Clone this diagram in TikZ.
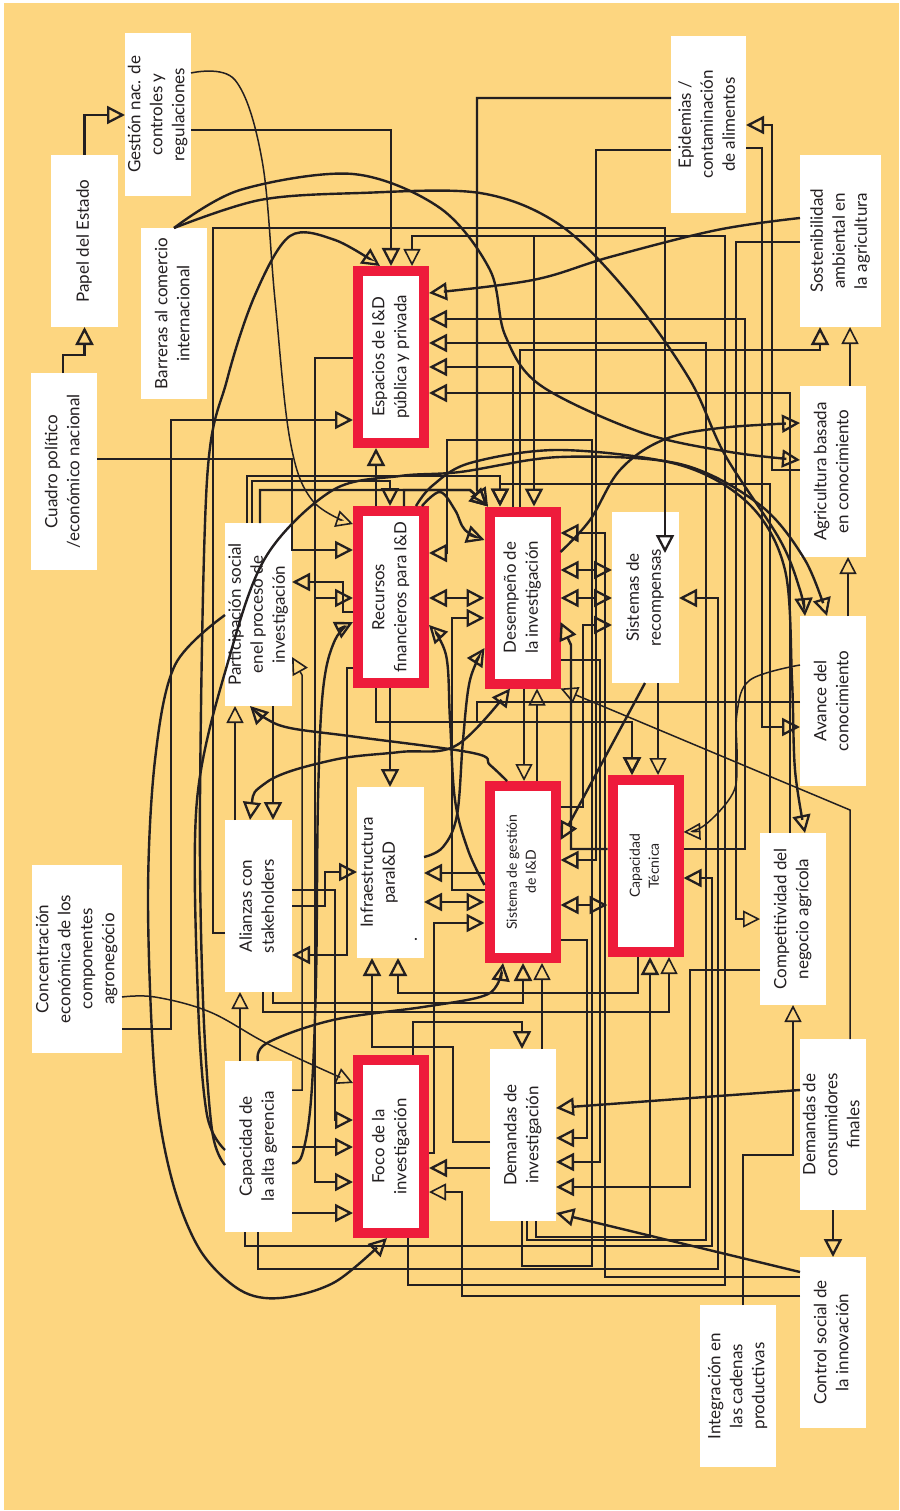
\documentclass[tikz,border=0pt]{standalone}
\usepackage{fontspec}
\setmainfont{Lato}
\usetikzlibrary{arrows.meta}
\definecolor{paper}{HTML}{FDD680}
\definecolor{ink}{HTML}{231F20}
\definecolor{frame}{HTML}{EE1B3B}
\newcommand{\boxfont}{\fontsize{17}{22}\selectfont}
\newcommand{\redfont}{\fontsize{16.8}{22}\selectfont}
\newcommand{\boxsmall}{\fontsize{14}{19}\selectfont}
\newcommand{\vtext}[1]{\rotatebox{90}{\begin{tabular}{@{}c@{}}#1\end{tabular}}}
\tikzset{
  HB/.tip={Triangle[open,length=18pt,width=18pt,line width=2.3pt]},
  HT/.tip={Triangle[open,length=17pt,width=17pt,line width=1.6pt]},
  ln/.style={draw=ink,line width=2.4pt},
  tn/.style={draw=ink,line width=1.5pt},
  wbox/.style={fill=white,inner sep=0pt,outer sep=0pt,font=\boxfont,text=ink},
  rbox/.style={fill=white,draw=frame,line width=10pt,inner sep=0pt,outer sep=5pt,
    minimum width=66pt,minimum height=172pt,font=\redfont,text=ink},
}
\begin{document}
\begin{tikzpicture}[x=1pt,y=-1pt]
\useasboundingbox (0,0) rectangle (899,1511);
\fill[white] (0,0) rectangle (899,1511);
\fill[paper] (4,3) rectangle (899,1510);

% ---------- boxes ----------
\node[wbox,minimum width=67pt,minimum height=172pt] (pe) at (84.5,241) {\vtext{Papel del Estado}};
\node[wbox,minimum width=66pt,minimum height=163pt] (gn) at (158,114.5) {\vtext{Gestión nac. de\\controles y\\regulaciones}};
\node[wbox,minimum width=66pt,minimum height=171pt] (bc) at (174,313.5) {\vtext{Barreras al comercio\\internacional}};
\node[wbox,minimum width=66pt,minimum height=197pt] (cp) at (64,471.5) {\vtext{Cuadro político\\/económico nacional}};
\node[rbox] (esp) at (391,357) {\vtext{Espacios de I\&D\\pública y privada}};
\node[rbox] (rec) at (391,597) {\vtext{Recursos\\financieros para I\&D}};
\node[rbox] (des) at (522.5,597.5) {\vtext{Desempeño de\\la investigación}};
\node[wbox,minimum width=67pt,minimum height=171pt] (sr) at (645.5,597.5) {\vtext{Sistemas de\\recompensas}};
\node[wbox,minimum width=66pt,minimum height=171pt] (abc) at (833,471.5) {\vtext{Agricultura basada\\en conocimiento}};
\node[wbox,minimum width=66pt,minimum height=170pt] (av) at (833,701) {\vtext{Avance del\\conocimiento}};
\node[wbox,minimum width=81pt,minimum height=172pt] (sost) at (840.5,241) {\vtext{Sostenibilidad\\ambiental en\\la agricultura}};
\node[wbox,minimum width=75pt,minimum height=177pt] (epi) at (708.5,124.5) {\vtext{Epidemias /\\contaminación\\de alimentos}};
\node[wbox,minimum width=67pt,minimum height=183pt] (ps) at (258.5,614.5) {\vtext{Participación social\\enel proceso de\\investigación}};
\node[wbox,minimum width=67pt,minimum height=172pt] (al) at (258.5,906) {\vtext{Alianzas con\\stakeholders}};
\node[wbox,minimum width=67pt,minimum height=171pt] (inf) at (390.5,872.5) {\vtext{Infraestructura\\paraI\&D\\\multicolumn{1}{@{}l@{}}{\hspace{-14pt}.}}};
\node[rbox,font=\boxsmall] (sg) at (522.5,872) {\vtext{Sistema de gestión\\de I\&D}};
\node[rbox,font=\boxsmall] (ct) at (645.5,866) {\vtext{Capacidad\\Técnica}};
\node[wbox,minimum width=66pt,minimum height=172pt] (cn) at (793,919) {\vtext{Competitividad del\\negocio agrícola}};
\node[wbox,minimum width=90pt,minimum height=188pt] (ce) at (77,959) {\vtext{Concentración\\económica de los\\componentes\\agronegócio}};
\node[wbox,minimum width=67pt,minimum height=171pt] (ag) at (258.5,1146.5) {\vtext{Capacidad de\\la alta gerencia}};
\node[rbox,minimum height=173pt] (foco) at (391,1146.5) {\vtext{Foco de la\\investigación}};
\node[wbox,minimum width=66pt,minimum height=172pt] (di) at (523,1135) {\vtext{Demandas de\\investigación}};
\node[wbox,minimum width=66pt,minimum height=171pt] (dc) at (833,1124.5) {\vtext{Demandas de\\consumidores\\finales}};
\node[wbox,minimum width=66pt,minimum height=171pt] (cs) at (833,1342.5) {\vtext{Control social de\\la innovación}};
\node[wbox,minimum width=76pt,minimum height=162pt] (ic) at (738,1386) {\vtext{Integración en\\las cadenas\\productivas}};

% ---------- upper left chain ----------
\draw[ln,-HB] (cp.north -| 63,0) |- (84.5,355) -- (pe.south);
\draw[ln,-HB] (pe.north) |- (gn.west |- 0,115);
\draw[ln,-HB] (gn.east |- 0,130) -| (esp.north);
\draw[tn,-HT] plot[smooth,tension=.6] coordinates {(gn.east |- 0,73) (235,80) (262,160) (275,300) (290,440) (312,500) (rec.west |- 0,524)};

% ---------- long curves ----------
\draw[ln,-HB] plot[smooth,tension=.55] coordinates {(bc.north) (240,190) (353,174) (440,208) (490,270) (505,335) (540,385) (640,432) (730,452) (abc.west |- 0,460)};
\draw[ln,-HB] plot[smooth,tension=.55] coordinates {(bc.north) (260,200) (360,193) (480,193) (560,225) (630,295) (690,380) (725,455) (780,540) (800,590) (av.north -| 805,0)};
\draw[ln,-HB] plot[smooth,tension=.55] coordinates {(ag.west |- 0,1150) (207,1115) (198,1000) (197,800) (230,655) (267,555) (333,490) (400,476) (460,472) (560,457) (680,464) (760,505) (805,560) (av.north -| 827,0)};
\draw[ln,-HB] plot[smooth,tension=.55] coordinates {(ag.west |- 0,1165) (212,1130) (203,1000) (200,800) (207,480) (227,380) (255,295) (290,236) (335,240) (esp.north -| 380,0)};
\draw[ln,-HB] plot[smooth,tension=.55] coordinates {(ps.west |- 0,615) (175,665) (155,760) (148,900) (155,1080) (172,1180) (200,1250) (240,1290) (280,1298) (335,1282) (foco.south -| 387,0)};
\draw[tn,-HT] plot[smooth,tension=.6] coordinates {(ce.east |- 0,997) (155,997) (210,1012) (270,1045) (foco.west |- 0,1083)};
\draw[ln,-HB] plot[smooth,tension=.6] coordinates {(sost.west |- 0,218) (717,230) (610,257) (533,280) (esp.east |- 0,293)};
\draw[ln,-HB] plot[smooth,tension=.55] coordinates {(rec.north -| 416,0) (432,486) (470,463) (560,450) (680,465) (750,505) (785,570) (792,680) (795,770) (cn.north -| 805,0)};
\draw[ln,-HB] plot[smooth,tension=.6] coordinates {(rec.north -| 422,0) (440,492) (455,510) (465,530) (des.west |- 0,540)};
\draw[ln,-HB] plot[smooth,tension=.6] coordinates {(des.east |- 0,552) (590,520) (620,470) (663,440) (720,428) (abc.west |- 0,423)};
\draw[ln,-HB] plot[smooth,tension=.6] coordinates {(inf.east |- 0,857) (443,847) (457,815) (463,740) (470,680) (des.west |- 0,648)};
\draw[ln,-HB] plot[smooth,tension=.6] coordinates {(sg.west |- 0,885) (468,850) (455,800) (450,720) (446,655) (rec.east |- 0,625)};
\draw[ln,HB-HB] plot[smooth,tension=.6] coordinates {(al.north -| 250,0) (267,782) (333,760) (400,752) (457,745) (des.south -| 510,0)};
\draw[ln,-HB] plot[smooth,tension=.6] coordinates {(sg.north -| 507,0) (490,765) (473,753) (357,737) (290,728) (265,718) (ps.south -| 250,0)};
\draw[ln,-HB] plot[smooth,tension=.6] coordinates {(ag.north -| 258,0) (267,1043) (333,1020) (423,1007) (480,997) (497,985) (sg.south -| 503,0)};
\draw[ln,-HB] plot[smooth,tension=.6] coordinates {(ag.east |- 0,1163) (302,1155) (311,1100) (316,980) (318,800) (323,690) (335,640) (rec.west |- 0,622)};
\draw[tn,-HT] plot[smooth,tension=.6] coordinates {(av.west |- 0,665) (750,680) (737,713) (737,760) (733,793) (705,825) (ct.east |- 0,832)};

% ---------- left side ----------
\draw[ln,-HB] (ce.east |- 0,1029) -| (171,420) -- (esp.west |- 0,420);
\draw[ln,-HB] (cp.east |- 0,459) -| (292,550) -- (rec.west |- 0,550);
\draw[ln,-HB] (al.west |- 0,933) -| (213,228) -| (665,553);
\draw[ln,-HB] (esp.west |- 0,358) -| (315,1182) -- (foco.west |- 0,1182);
\draw[ln,-HB] (esp.west |- 0,358) -| (315,598) -- (rec.west |- 0,598);
\draw[ln,-HB] (rec.north -| 376,0) -- (esp.south -| 376,0);
\draw[ln,-HB] (ps.north -| 252,0) |- (390,481) -- (rec.north -| 390,0);
\draw[ln,-HB] (ps.north -| 247,0) |- (500,476) -- (des.north -| 500,0);
\draw[ln,-HB] (ps.north -| 260,0) |- (470,490) -- (des.north -| 488,0);
\draw[ln,-HB] (rec.north -| 404,0) |- (470,490) -- (des.north -| 488,0);
\draw[ln,-HB] (rec.west |- 0,612) -| (343,582) -- (ps.east |- 0,582);
\draw[ln,-HB] (rec.west |- 0,668) -| (347,955) -- (al.east |- 0,955);
\draw[ln,-HB] (al.east |- 0,890) -| (335,1120) -- (foco.west |- 0,1120);
\draw[ln,-HB] (al.east |- 0,906) -| (325,872) -- (inf.west |- 0,872);
\draw[ln,-HB] (ag.east |- 0,1147) -- (foco.west |- 0,1147);
\draw[ln,-HB] (ag.east |- 0,1213) -- (foco.west |- 0,1213);
\draw[tn,-HT] (ag.east |- 0,1090) -| (302,675) -- (ps.east |- 0,657);
\draw[tn,-HT] (ag.north -| 240,0) -- (al.south -| 240,0);
\draw[tn,-HT] (al.north -| 235,0) -- (ps.south -| 235,0);
\draw[ln,-HB] (ps.south -| 273,0) -- (al.north -| 273,0);

% ---------- top and right ----------
\draw[tn,-HT] (foco.south -| 408,0) |- (725,1285) |- (412,236) -- (esp.north -| 412,0);
\draw[ln,-HB] (foco.south -| 408,0) |- (725,1285) |- (534,236) -- (des.north -| 534,0);
\draw[ln,-HB] (des.north -| 520,0) |- (820,350) -- (sost.south -| 820,0);
\draw[tn,-HT] (abc.north -| 850,0) -- (sost.south -| 850,0);
\draw[tn,-HT] (av.north -| 848,0) -- (abc.south -| 848,0);
\draw[ln,-HB] (abc.west |- 0,470) -| (772,125) -- (epi.east |- 0,125);
\draw[ln,-HB] (epi.east |- 0,148) -| (762,727) -- (av.west |- 0,727);
\draw[ln,-HB] (epi.west |- 0,98) -| (477,490) -- (des.north -| 488,0);
\draw[ln,-HB] (epi.west |- 0,150) -| (596,860) -- (sg.east |- 0,860);
\draw[tn,-HT] (sost.west |- 0,242) -| (736,919) -- (cn.west |- 0,919);
\draw[ln,-HB] (des.north -| 513,0) |- (esp.east |- 0,367);
\draw[ln,-HB] (ct.east |- 0,849) -| (745,319) -- (esp.east |- 0,319);
\draw[ln,-HB] (di.south -| 527,0) |- (706,1240) |- (esp.east |- 0,343);
\draw[ln,-HB] (cn.north -| 790,0) |- (esp.east |- 0,393);
\draw[ln,-HB] (cn.north -| 770,0) |- (500,484) -- (des.north -| 500,0);

% ---------- middle ----------
\draw[ln,HB-HB] (rec.east |- 0,598) -- (des.west |- 0,598);
\draw[ln,-HB] (sg.west |- 0,890) -| (452,618) -- (des.west |- 0,618);
\draw[ln,HB-HB] (des.east |- 0,570) -- (sr.west |- 0,570);
\draw[ln,HB-HB] (des.east |- 0,598) -- (sr.west |- 0,598);
\draw[ln,-HB] (sg.east |- 0,807) -| (583,625) -- (sr.west |- 0,625);
\draw[ln,-HB] (cs.west |- 0,1277) -| (605,533) -- (des.east |- 0,533);
\draw[ln,-HB] (ct.west |- 0,849) -| (571,645) -- (des.east |- 0,622);
\draw[tn,-HT] (dc.north -| 850,0) -- (850,810) -- (des.south east);
\draw[tn,-HT] (sg.north -| 537,0) -- (des.south -| 537,0);
\draw[tn,-HT] (des.south -| 524,0) -- (sg.north -| 524,0);
\draw[ln,HB-HB] (inf.east |- 0,902) -- (sg.west |- 0,902);
\draw[ln,-HB] (sg.west |- 0,873) -- (inf.east |- 0,873);
\draw[ln,-HB] (foco.east |- 0,1153) -| (434,923) -- (sg.west |- 0,923);
\draw[ln,-HB] (av.west |- 0,702) -| (477,722) -| (ct.north -| 632,0);
\draw[ln,-HB] (rec.south -| 376,0) |- (632,722) -- (ct.north -| 632,0);
\draw[ln,-HB] (rec.south -| 390,0) -- (inf.north -| 390,0);
\draw[ln,-HB] (sr.south -| 645,0) -- (sg.east |- 0,840);
\draw[tn,-HT] (sr.south -| 658,0) -- (ct.north -| 658,0);
\draw[ln,HB-HB] (sg.east |- 0,905) -- (ct.west |- 0,905);
\draw[ln,-HB] (ag.south -| 245,0) |- (712,1246) |- (ct.east |- 0,878);
\draw[ln,-HB] (ag.south -| 258,0) |- (718,1269) |- (sr.east |- 0,598);
\draw[ln,-HB] (des.east |- 0,660) -| (600,1162) -- (di.east |- 0,1162);
\draw[ln,-HB] (sg.east |- 0,940) -| (587,1138) -- (di.east |- 0,1138);
\draw[ln,-HB] (di.south -| 522,0) |- (592,1266) |- (447,440) |- (rec.east |- 0,553);

% ---------- lower part ----------
\draw[ln,-HB] (di.south -| 536,0) |- (650,1237) -- (ct.south -| 650,0);
\draw[ln,-HB] (cn.west |- 0,970) -| (690,1187) -- (di.east |- 0,1187);
\draw[ln,-HB] (dc.west |- 0,1090) -- (di.east |- 0,1108);
\draw[ln,-HB] (cs.west |- 0,1272) -- (di.east |- 0,1213);
\draw[ln,-HB] (dc.south) -- (cs.north);
\draw[tn,-HT] (ic.north -| 743,0) |- (793,1155) -- (cn.south -| 793,0);
\draw[tn,-HT] (cs.west |- 0,1296) -| (462,1192) -- (foco.east |- 0,1192);
\draw[ln,-HB] (di.west |- 0,1168) -- (foco.east |- 0,1168);
\draw[ln,-HB] (foco.north -| 413,0) |- (522,1022) -- (di.north -| 522,0);
\draw[tn,-HT] (di.north -| 542,0) -- (sg.south -| 542,0);
\draw[ln,-HB] (di.west |- 0,1142) -| (453,1047) -| (inf.south -| 372,0);
\draw[ln,-HB] (ct.south -| 638,0) |- (398,993) -- (inf.south -| 398,0);
\draw[ln,-HB] (al.south -| 273,0) |- (523,1003) -- (sg.south -| 523,0);
\draw[tn,-HT] (al.south -| 263,0) |- (669,1012) -- (ct.south -| 669,0);
\end{tikzpicture}
\end{document}
